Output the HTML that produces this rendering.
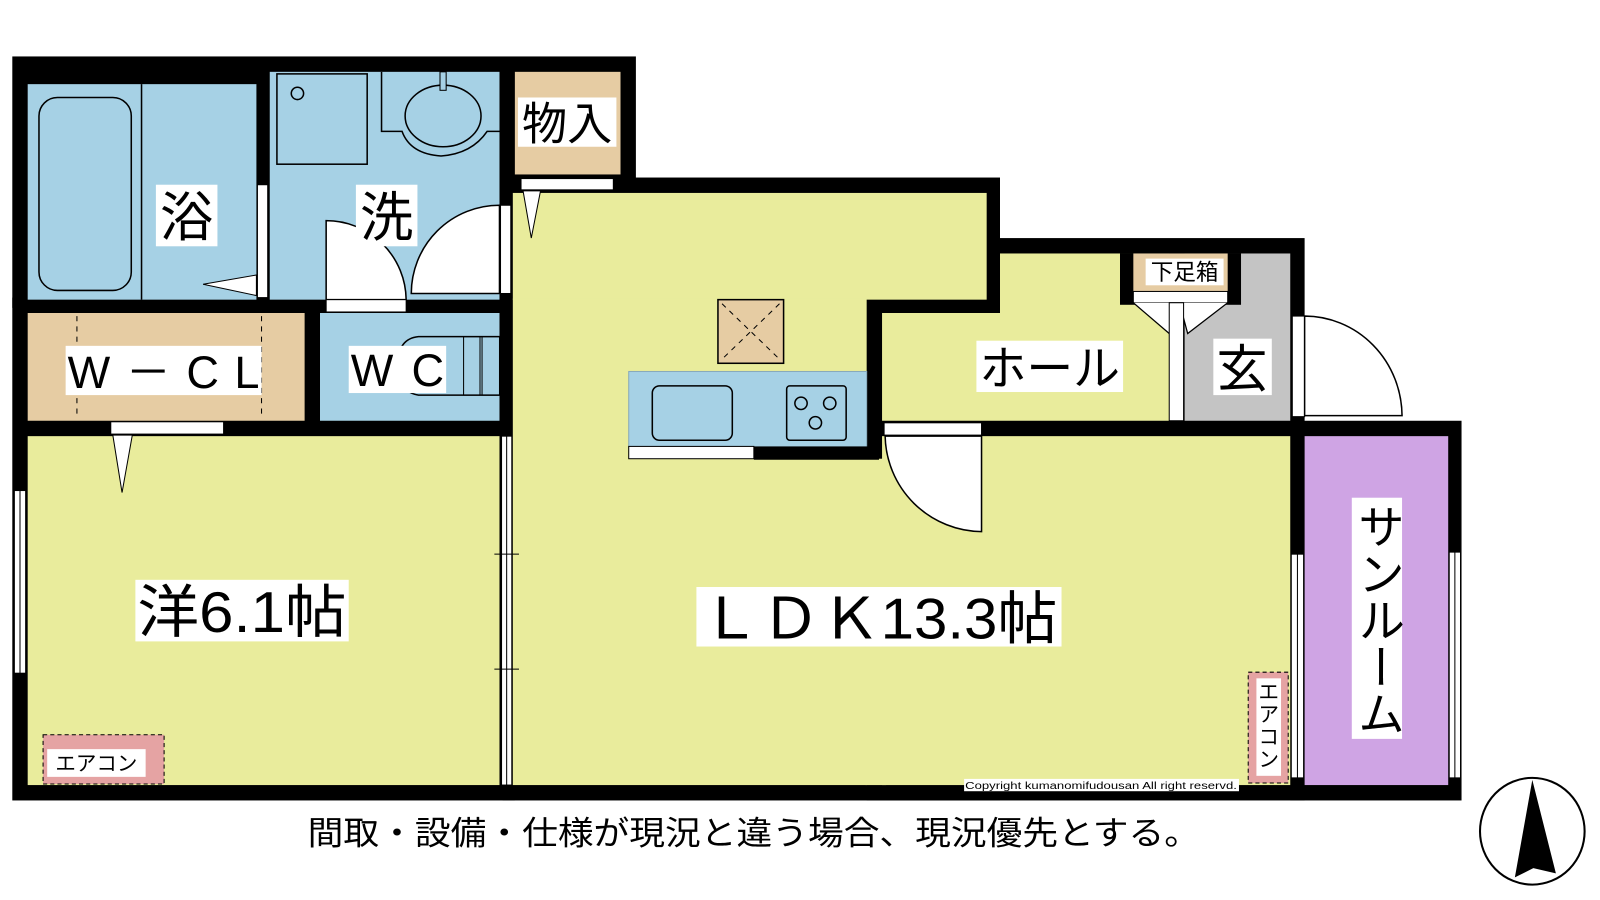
<!DOCTYPE html>
<html><head><meta charset="utf-8"><style>
html,body{margin:0;padding:0;background:#fff;width:1600px;height:900px;overflow:hidden}
svg{display:block}
text{font-family:"Liberation Sans","Noto Sans CJK JP",sans-serif;fill:#000}
</style></head><body>
<svg width="1600" height="900" viewBox="0 0 1560 877" preserveAspectRatio="none" xmlns="http://www.w3.org/2000/svg">
<rect width="1560" height="877" fill="#fff"/>
<rect x="12" y="55" width="608" height="245" fill="#000"/>
<rect x="12" y="290" width="490" height="490" fill="#000"/>
<rect x="490" y="173" width="485" height="607" fill="#000"/>
<rect x="845" y="232" width="427" height="548" fill="#000"/>
<rect x="1258" y="410" width="167" height="370" fill="#000"/>
<rect x="27" y="82" width="223" height="210" fill="#a6d1e5"/>
<rect x="263" y="70" width="224" height="222" fill="#a6d1e5"/>
<rect x="502" y="70" width="103" height="100" fill="#e6cca3"/>
<rect x="27" y="305" width="270" height="105" fill="#e6cca3"/>
<rect x="312" y="305" width="175" height="105" fill="#a6d1e5"/>
<rect x="27" y="425" width="460" height="340" fill="#e9ec9c"/>
<rect x="500" y="188" width="462" height="104" fill="#e9ec9c"/>
<rect x="500" y="291" width="345" height="474" fill="#e9ec9c"/>
<rect x="844" y="447" width="20" height="318" fill="#e9ec9c"/>
<rect x="860" y="305" width="280" height="105" fill="#e9ec9c"/>
<rect x="975" y="247" width="165" height="60" fill="#e9ec9c"/>
<rect x="860" y="425" width="398" height="340" fill="#e9ec9c"/>
<rect x="1155" y="247" width="103" height="163" fill="#c4c4c4"/>
<rect x="1272" y="425" width="140" height="340" fill="#cfa4e4"/>
<rect x="1092" y="247" width="118" height="50" fill="#000"/>
<rect x="1105" y="247" width="92" height="38" fill="#e6cca3"/>
<rect x="1105" y="284" width="92" height="11" fill="#fff" stroke="#000" stroke-width="1"/>
<path d="M1105 295 L1140 325 L1150 295 M1150 295 L1158 325 L1197 295" fill="#fff" stroke="#000" stroke-width="1.2"/>
<rect x="1140" y="295" width="14" height="115" fill="#fff" stroke="#000" stroke-width="1"/>
<line x1="138" y1="82" x2="138" y2="292" stroke="#000" stroke-width="1.5"/>
<rect x="38" y="95" width="90" height="188" rx="18" fill="none" stroke="#000" stroke-width="1.5"/>
<rect x="251" y="180" width="10" height="110" fill="#fff" stroke="#000"/>
<path d="M250 268 L198 277 L250 288 Z" fill="#fff" stroke="#000"/>
<rect x="270" y="72" width="88" height="88" fill="none" stroke="#000" stroke-width="1.5"/>
<circle cx="290" cy="91" r="6" fill="none" stroke="#000" stroke-width="1.5"/>
<path d="M372 70 L372 128 L392 128 Q400 150 430 152 Q460 150 475 128 L487 128" fill="none" stroke="#000" stroke-width="1.5"/>
<ellipse cx="432" cy="113" rx="37" ry="30" fill="none" stroke="#000" stroke-width="1.5"/>
<rect x="429" y="70" width="6" height="18" fill="#a6d1e5" stroke="#000"/>
<path d="M318 292 L318 215 A78 78 0 0 1 396 292 Z" fill="#fff" stroke="#000" stroke-width="1.5"/>
<rect x="318" y="292" width="78" height="12" fill="#fff" stroke="#000"/>
<path d="M487 200 A86 86 0 0 0 401 286 L487 286 Z" fill="#fff" stroke="#000" stroke-width="1.5"/>
<rect x="488" y="200" width="10" height="86" fill="#fff" stroke="#000"/>
<rect x="508" y="174" width="90" height="11" fill="#fff" stroke="#000"/>
<path d="M510 186 L518 232 L527 186 Z" fill="#fff" stroke="#000"/>
<line x1="75" y1="308" x2="75" y2="408" stroke="#000" stroke-dasharray="5,5"/>
<line x1="255" y1="308" x2="255" y2="408" stroke="#000" stroke-dasharray="5,5"/>
<rect x="108" y="411" width="110" height="12" fill="#fff" stroke="#000"/>
<path d="M110 424 L119 480 L129 424 Z" fill="#fff" stroke="#000"/>
<path d="M487 328 L408 328 Q388 330 388 355 Q388 382 408 385 L487 385" fill="none" stroke="#000" stroke-width="1.5"/>
<rect x="452" y="328" width="16" height="57" fill="none" stroke="#000"/>
<rect x="470" y="328" width="17" height="57" fill="none" stroke="#000"/>
<rect x="14" y="478" width="11" height="178" fill="#fff" stroke="#000"/>
<line x1="19.5" y1="478" x2="19.5" y2="656" stroke="#000"/>
<rect x="489" y="425" width="10" height="340" fill="#fff" stroke="#000"/>
<line x1="494" y1="425" x2="494" y2="765" stroke="#000"/>
<line x1="482" y1="540" x2="506" y2="540" stroke="#000"/>
<line x1="482" y1="652" x2="506" y2="652" stroke="#000"/>
<rect x="700" y="292" width="64" height="62" fill="#e6cca3" stroke="#000" stroke-width="1.5"/>
<path d="M704 296 L760 350 M760 296 L704 350" stroke="#000" stroke-dasharray="5,5"/>
<rect x="613" y="362" width="232" height="74" fill="#a6d1e5" stroke="#8ab"/>
<rect x="735" y="435" width="122" height="13" fill="#000"/>
<rect x="613" y="435" width="122" height="12" fill="#fff" stroke="#000"/>
<rect x="636" y="376" width="78" height="53" rx="7" fill="none" stroke="#000" stroke-width="1.5"/>
<rect x="767" y="376" width="58" height="53" rx="3" fill="none" stroke="#000" stroke-width="1.5"/>
<circle cx="781" cy="393" r="6" fill="none" stroke="#000" stroke-width="1.5"/>
<circle cx="809" cy="393" r="6" fill="none" stroke="#000" stroke-width="1.5"/>
<circle cx="795" cy="412" r="6" fill="none" stroke="#000" stroke-width="1.5"/>
<rect x="862" y="412" width="95" height="12" fill="#fff" stroke="#000"/>
<path d="M957 425 L957 518 A95 95 0 0 1 863 425 Z" fill="#fff" stroke="#000" stroke-width="1.5"/>
<rect x="1260" y="308" width="12" height="98" fill="#fff" stroke="#000"/>
<path d="M1272 308 A95 98 0 0 1 1367 405 L1272 405 Z" fill="#fff" stroke="#000" stroke-width="1.5"/>
<rect x="1259" y="540" width="12" height="218" fill="#fff" stroke="#000"/>
<line x1="1265" y1="540" x2="1265" y2="758" stroke="#000"/>
<rect x="1413" y="538" width="11" height="220" fill="#fff" stroke="#000"/>
<line x1="1418.5" y1="538" x2="1418.5" y2="758" stroke="#000"/>
<rect x="42" y="716" width="118" height="48" fill="#e5a3a3" stroke="#000" stroke-dasharray="4,3"/>
<rect x="46" y="730" width="96" height="27" fill="#fff"/>
<text x="94" y="751" font-size="20" text-anchor="middle">エアコン</text>
<rect x="1217" y="655" width="39" height="108" fill="#e5a3a3" stroke="#000" stroke-dasharray="4,3"/>
<rect x="1225" y="661" width="24" height="95" fill="#fff"/>
<text font-size="20" text-anchor="middle"><tspan x="1237" y="681">エ</tspan><tspan x="1237" y="703">ア</tspan><tspan x="1237" y="725">コ</tspan><tspan x="1237" y="747">ン</tspan></text>
<rect x="940" y="759" width="268" height="12" fill="#fff"/>
<text x="941" y="769" font-size="10" textLength="265" lengthAdjust="spacingAndGlyphs">Copyright kumanomifudousan All right reservd.</text>
<rect x="152" y="180" width="60" height="60" fill="#fff"/><text x="182" y="230" font-size="52" text-anchor="middle">浴</text>
<rect x="347" y="180" width="60" height="60" fill="#fff"/><text x="377" y="230" font-size="52" text-anchor="middle">洗</text>
<rect x="505" y="95" width="96" height="48" fill="#fff"/><text x="553" y="136" font-size="44" text-anchor="middle">物入</text>
<rect x="64" y="337" width="191" height="48" fill="#fff"/><text x="66" y="378" font-size="44" textLength="187" lengthAdjust="spacing">W－CL</text>
<rect x="340" y="337" width="95" height="46" fill="#fff"/><text x="342" y="376" font-size="44" textLength="91" lengthAdjust="spacing">WC</text>
<rect x="132" y="565" width="208" height="60" fill="#fff"/><text x="134" y="616" font-size="56" textLength="204" lengthAdjust="spacingAndGlyphs">洋6.1帖</text>
<rect x="679" y="572" width="356" height="58" fill="#fff"/><text x="683" y="622" font-size="56" textLength="348" lengthAdjust="spacingAndGlyphs">ＬＤＫ13.3帖</text>
<rect x="952" y="332" width="143" height="50" fill="#fff"/><text x="955" y="375" font-size="46" textLength="137" lengthAdjust="spacingAndGlyphs">ホール</text>
<rect x="1183" y="330" width="57" height="55" fill="#fff"/><text x="1211" y="377" font-size="50" text-anchor="middle">玄</text>
<rect x="1117" y="252" width="76" height="26" fill="#fff"/><text x="1155" y="273" font-size="22" text-anchor="middle">下足箱</text>
<rect x="1318" y="485" width="49" height="235" fill="#fff"/>
<text x="1342" y="490" font-size="46" textLength="228" lengthAdjust="spacingAndGlyphs" style="writing-mode:vertical-rl">サンルーム</text>
<text x="735" y="823" font-size="32" text-anchor="middle" textLength="870" lengthAdjust="spacingAndGlyphs">間取・設備・仕様が現況と違う場合、現況優先とする。</text>
<ellipse cx="1494" cy="810" rx="51" ry="52" fill="#fff" stroke="#000" stroke-width="2"/>
<path d="M1494 760 L1477 855 L1495 846 L1517 851 Z" fill="#000"/>
</svg>
</body></html>
